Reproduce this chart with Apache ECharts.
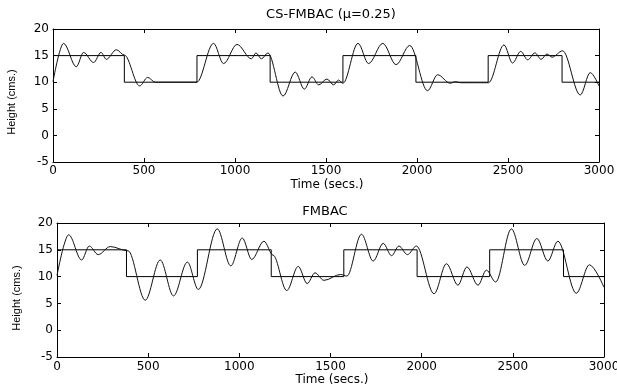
<!DOCTYPE html>
<html>
<head>
<meta charset="utf-8">
<script src="https://cdn.jsdelivr.net/npm/echarts@6/dist/echarts.min.js"></script>
<style>html,body{margin:0;padding:0;background:#fff}#c{width:617px;height:387px}</style>
</head>
<body>
<div id="c"></div>
<script>
// ---- data ----
const yTicks = [-5, 0, 5, 10, 15, 20];
const xTicks = [0, 500, 1000, 1500, 2000, 2500, 3000];

// CS-FMBAC (top) reference set-point (step changes)
const csRefTime   = [0, 392, 791, 1193, 1593, 1994, 2391, 2797, 3000];
const csRefHeight = [15, 10, 15, 10, 15, 10, 15, 10, 10];
// CS-FMBAC measured height
const csTime   = [0, 58, 128, 168, 223, 264, 293, 348, 392, 476, 520, 562, 790, 882, 937, 1011, 1090, 1115, 1145, 1181, 1264, 1331, 1381, 1423, 1460, 1505, 1542, 1569, 1593, 1676, 1734, 1812, 1885, 1960, 2058, 2113, 2183, 2211, 2240, 2393, 2478, 2525, 2570, 2608, 2648, 2682, 2714, 2742, 2800, 2897, 2952, 3000];
const csHeight = [10.1, 17.3, 12.9, 15.6, 13.7, 15.6, 14.3, 16.1, 15.1, 9.3, 10.9, 10.0, 10.0, 17.3, 13.5, 17.1, 14.4, 15.5, 14.4, 15.5, 7.4, 11.9, 8.7, 11.0, 9.5, 10.6, 9.5, 10.4, 9.8, 17.3, 13.5, 17.3, 13.3, 16.9, 8.4, 11.4, 9.8, 10.1, 9.9, 9.9, 17.0, 13.6, 15.8, 14.2, 15.5, 14.3, 15.3, 14.7, 15.9, 7.6, 11.8, 9.3];

// FMBAC (bottom) reference set-point
const fmRefTime   = [0, 381, 770, 1175, 1573, 1975, 2373, 2778, 3000];
const fmRefHeight = [15, 10, 15, 10, 15, 10, 15, 10, 10];
// FMBAC measured height
const fmTime   = [0, 64, 135, 177, 226, 292, 390, 484, 566, 639, 715, 775, 879, 953, 1016, 1068, 1135, 1185, 1260, 1323, 1372, 1415, 1464, 1555, 1590, 1670, 1734, 1789, 1835, 1875, 1922, 1971, 2068, 2136, 2199, 2248, 2309, 2355, 2406, 2492, 2565, 2632, 2692, 2747, 2848, 2920, 3000];
const fmHeight = [10.2, 17.8, 13.1, 15.7, 14.1, 15.6, 14.8, 5.6, 13.1, 6.4, 12.7, 7.6, 18.9, 12.0, 17.2, 13.2, 16.6, 14.0, 7.4, 11.9, 8.7, 10.7, 9.3, 10.4, 10.1, 17.9, 12.9, 16.2, 13.9, 15.7, 14.1, 15.7, 6.8, 12.4, 8.4, 11.8, 8.4, 11.2, 9.0, 18.9, 12.1, 17.1, 12.9, 16.6, 6.9, 12.2, 8.0];

const topTitle = 'CS-FMBAC (\u03bc=0.25)';
const botTitle = 'FMBAC';
const xName = 'Time (secs.)';
const yName = 'Height (cms.)';

// ---- chart ----
const zip = (a, b) => a.map((v, i) => [v, b[i]]);
const FONT = 'DejaVu Sans';
const C = '#000';

function xAx(grid, pos, labels) {
  return {
    type: 'value', gridIndex: grid, position: pos,
    min: xTicks[0], max: xTicks[xTicks.length - 1], interval: 500,
    axisLine: { show: true, onZero: false, lineStyle: { color: C, width: 1 } },
    axisTick: { show: true, inside: true, length: 4, lineStyle: { color: C, width: 1 } },
    axisLabel: { show: labels, color: C, fontFamily: FONT, fontSize: 12, margin: grid === 0 ? 3 : 4,
      hideOverlap: false, formatter: v => String(v) },
    splitLine: { show: false }
  };
}
function yAx(grid, pos, labels) {
  return {
    type: 'value', gridIndex: grid, position: pos,
    min: yTicks[0], max: yTicks[yTicks.length - 1], interval: 5,
    axisLine: { show: true, onZero: false, lineStyle: { color: C, width: 1 } },
    axisTick: { show: true, inside: true, length: 4, lineStyle: { color: C, width: 1 } },
    axisLabel: { show: labels, color: C, fontFamily: FONT, fontSize: 12, margin: 4,
      formatter: v => String(v) },
    splitLine: { show: false }
  };
}
function txt(x, y, s, size, rot, fam) {
  return {
    type: 'text', x: x, y: y, rotation: rot || 0,
    style: { text: s, fill: C, fontFamily: fam || FONT, fontSize: size, align: 'center', verticalAlign: 'middle' }
  };
}

const chart = echarts.init(document.getElementById('c'), null, { renderer: 'canvas' });
chart.setOption({
  animation: false,
  backgroundColor: '#fff',
  grid: [
    { left: 53, top: 29, width: 546, height: 133, containLabel: false, outerBoundsMode: 'none' },
    { left: 57, top: 223, width: 547, height: 134, containLabel: false, outerBoundsMode: 'none' }
  ],
  xAxis: [xAx(0, 'bottom', true), xAx(0, 'top', false), xAx(1, 'bottom', true), xAx(1, 'top', false)],
  yAxis: [yAx(0, 'left', true), yAx(0, 'right', false), yAx(1, 'left', true), yAx(1, 'right', false)],
  series: [
    { type: 'line', xAxisIndex: 0, yAxisIndex: 0, data: zip(csRefTime, csRefHeight), step: 'end',
      symbol: 'none', lineStyle: { color: '#000', width: 1 } },
    { type: 'line', xAxisIndex: 0, yAxisIndex: 0, data: zip(csTime, csHeight), smooth: 0.34, smoothMonotone: 'x',
      symbol: 'none', lineStyle: { color: '#111', width: 1 } },
    { type: 'line', xAxisIndex: 2, yAxisIndex: 2, data: zip(fmRefTime, fmRefHeight), step: 'end',
      symbol: 'none', lineStyle: { color: '#000', width: 1 } },
    { type: 'line', xAxisIndex: 2, yAxisIndex: 2, data: zip(fmTime, fmHeight), smooth: 0.34, smoothMonotone: 'x',
      symbol: 'none', lineStyle: { color: '#111', width: 1 } }
  ],
  graphic: [
    txt(331, 15, topTitle, 13),
    txt(327, 185, xName, 12),
    txt(12, 102, yName, 11, Math.PI / 2, 'Liberation Sans'),
    txt(325, 212, botTitle, 13),
    txt(332, 380, xName, 12),
    txt(17, 298, yName, 11, Math.PI / 2, 'Liberation Sans')
  ]
});
</script>
</body>
</html>
